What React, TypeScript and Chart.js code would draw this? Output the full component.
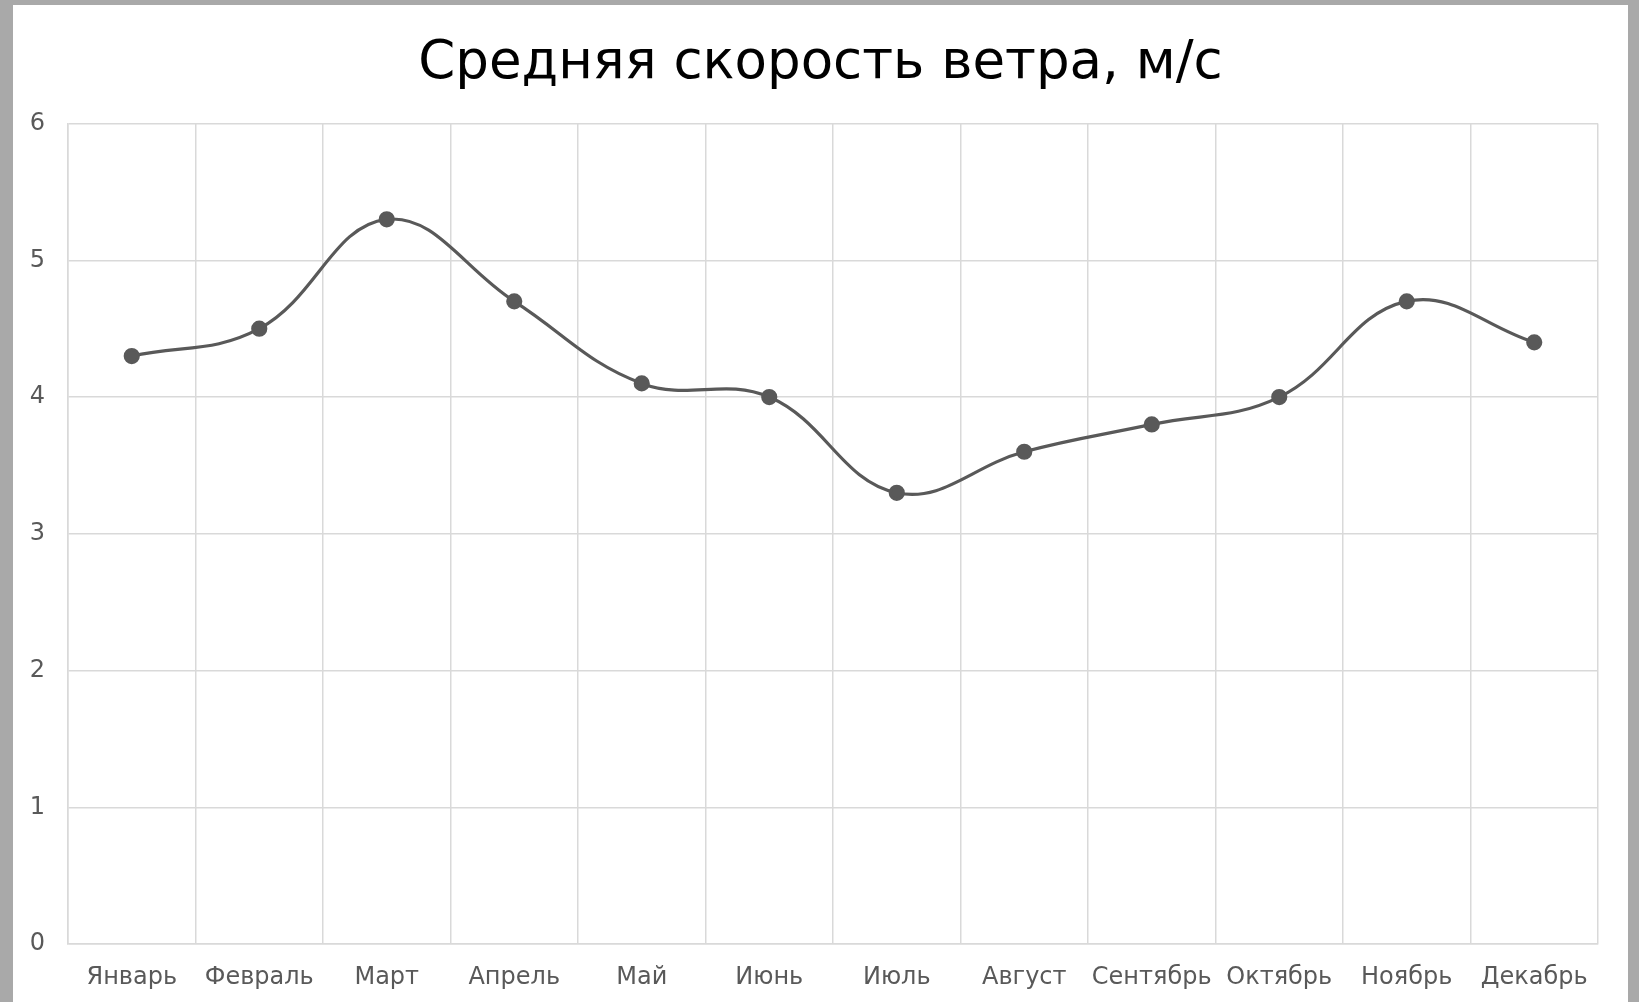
import React, { useEffect, useRef } from "react";
import { Chart, registerables } from "chart.js";

Chart.register(...registerables);

const months = ["Январь", "Февраль", "Март", "Апрель", "Май", "Июнь", "Июль", "Август", "Сентябрь", "Октябрь", "Ноябрь", "Декабрь"];
const windSpeed = [4.3, 4.5, 5.3, 4.7, 4.1, 4.0, 3.3, 3.6, 3.8, 4.0, 4.7, 4.4];
const yTicks = [0, 1, 2, 3, 4, 5, 6];
const titleText = "Средняя скорость ветра, м/с";

export default function App() {
  const ref = useRef<HTMLCanvasElement | null>(null);
  useEffect(() => {
    document.body.style.margin = "0";
    const ctx = ref.current!;
    const chart = new Chart(ctx, {
      type: "line",
      data: {
        labels: months,
        datasets: [
          {
            data: windSpeed,
            borderColor: "#595959",
            backgroundColor: "#595959",
            borderWidth: 3.2,
            pointRadius: 6.5,
            pointBackgroundColor: "#595959",
            pointBorderColor: "#595959",
            tension: 0.4,
          },
        ],
      },
      options: {
        animation: false,
        responsive: false,
        devicePixelRatio: 1,
        layout: { padding: { left: 0, right: 0, top: 27, bottom: 0 } },
        plugins: {
          legend: { display: false },
          tooltip: { enabled: false },
          title: {
            display: true,
            text: titleText,
            color: "#000000",
            font: { family: "DejaVu Sans", size: 53, weight: "normal", lineHeight: 1.2 },
            padding: { top: 0, bottom: 28 },
          },
        },
        scales: {
          x: {
            offset: true,
            grid: { offset: true, color: "#d9d9d9", lineWidth: 1.5, drawTicks: false },
            border: { color: "#d9d9d9", width: 1.5 },
            ticks: {
              color: "#595959",
              font: { family: "DejaVu Sans", size: 24 },
              padding: 19,
              maxRotation: 0,
              autoSkip: false,
            },
            afterFit: (s: any) => {
              s.height = 58;
            },
          },
          y: {
            min: 0,
            max: 6,
            afterBuildTicks: (s: any) => {
              s.ticks = yTicks.map((v) => ({ value: v }));
            },
            grid: { color: "#d9d9d9", lineWidth: 1.5, drawTicks: false },
            border: { color: "#d9d9d9", width: 1.5 },
            ticks: {
              color: "#595959",
              font: { family: "DejaVu Sans", size: 24 },
              padding: 23,
            },
            afterFit: (s: any) => {
              s.width = 55;
            },
          },
          yRight: {
            position: "right",
            display: true,
            grid: { display: false, drawTicks: false },
            border: { display: false },
            ticks: { display: false },
            afterFit: (s: any) => {
              s.width = 30;
            },
          },
        },
      },
    });
    return () => chart.destroy();
  }, []);
  return (
    <div style={{ position: "relative", width: 1639, height: 1002, background: "#a9a9a9", overflow: "hidden" }}>
      <div style={{ position: "absolute", left: 13, top: 5, width: 1615, height: 997, background: "#ffffff" }}>
        <canvas ref={ref} width={1615} height={997} style={{ display: "block" }} />
      </div>
    </div>
  );
}
